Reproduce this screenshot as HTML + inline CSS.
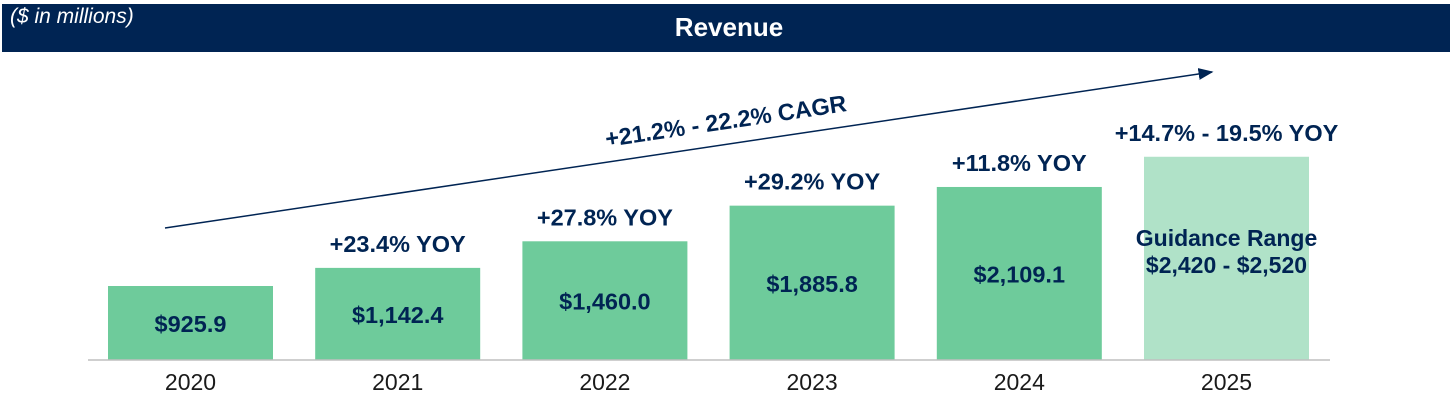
<!DOCTYPE html>
<html><head><meta charset="utf-8"><style>
body{margin:0;background:#fff;width:1456px;height:404px;overflow:hidden;font-family:"Liberation Sans",Arial,sans-serif}
</style></head><body>
<svg width="1456" height="404" xmlns="http://www.w3.org/2000/svg">
<rect x="2" y="4" width="1448" height="48" fill="#002453"/>
<text x="10" y="23" fill="#fff" font-size="21" font-style="italic">($ in millions)</text>
<text x="729" y="36" fill="#fff" font-size="26" font-weight="bold" text-anchor="middle">Revenue</text>
<g id="bars"></g>
<line x1="88" y1="360" x2="1330" y2="360" stroke="#bfbfbf" stroke-width="1.5"/>
<defs><marker id="ah" markerWidth="10" markerHeight="8" refX="9" refY="4" orient="auto"><path d="M0,0 L10,4 L0,8 z" fill="#002453"/></marker></defs>
<line x1="165" y1="228" x2="1212" y2="72" stroke="#002453" stroke-width="1.5" marker-end="url(#ah)"/>
<text x="727" y="129" fill="#002453" font-size="23.5" font-weight="bold" text-anchor="middle" transform="rotate(-8.5 727 129)">+21.2% - 22.2% CAGR</text>
</svg>
<script>
const categories=["2020","2021","2022","2023","2024","2025"];
const values=[925.9,1142.4,1460.0,1885.8,2109.1,2470];
const valueLabels=["$925.9","$1,142.4","$1,460.0","$1,885.8","$2,109.1",""];
const yoyLabels=["","+23.4% YOY","+27.8% YOY","+29.2% YOY","+11.8% YOY","+14.7% - 19.5% YOY"];
const NS="http://www.w3.org/2000/svg";
const g=document.getElementById('bars');
function y(v){return 360-(v*0.0837-3.5);}
function x(i){return 108+i*207.2;}
const bw=165;
function mk(t,a){const e=document.createElementNS(NS,t);for(const k in a)e.setAttribute(k,a[k]);return e;}
categories.forEach((c,i)=>{
  const top=y(values[i]);
  const r=mk('rect',{x:x(i),y:top,width:bw,height:360-top,fill:i===5?'#b0e2c8':'#6ecb9b'});
  
  
  g.appendChild(r);
  const cx=x(i)+bw/2;
  const yl=mk('text',{x:cx,y:390,'font-size':23,fill:'#1a1a1a','text-anchor':'middle'});
  yl.textContent=c;
  
  
  g.appendChild(yl);
  if(valueLabels[i]){
    const vl=mk('text',{x:cx,y:(top+360)/2+9,'font-size':23.5,'font-weight':'bold',fill:'#002453','text-anchor':'middle'});
    vl.textContent=valueLabels[i];
    
    
    g.appendChild(vl);
  }
  if(yoyLabels[i]){
    const ol=mk('text',{x:cx,y:top-16,'font-size':23.5,'font-weight':'bold',fill:'#002453','text-anchor':'middle'});
    ol.textContent=yoyLabels[i];
    
    
    g.appendChild(ol);
  }
});
const g1=mk('text',{x:x(5)+bw/2,y:246,'font-size':23,'font-weight':'bold',fill:'#002453','text-anchor':'middle'});
g1.textContent='Guidance Range';


g.appendChild(g1);
const g2=mk('text',{x:x(5)+bw/2,y:273,'font-size':23,'font-weight':'bold',fill:'#002453','text-anchor':'middle'});
g2.textContent='$2,420 - $2,520';


g.appendChild(g2);
</script>
</body></html>
